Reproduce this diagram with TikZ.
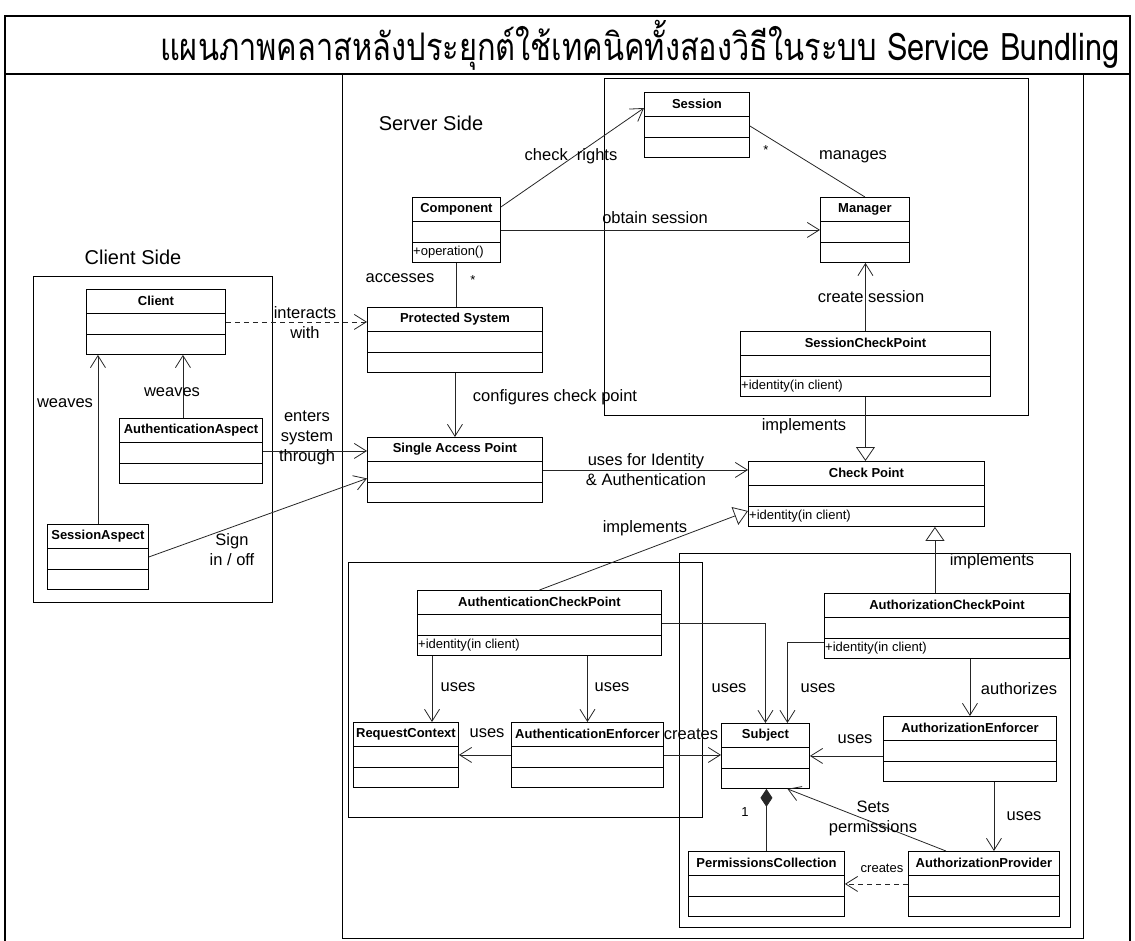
\documentclass[tikz,border=0pt]{standalone}
\usepackage{fontspec}
\setmainfont{Liberation Sans}
\newfontfamily\thaifont[Script=Thai]{Loma}
\usetikzlibrary{arrows.meta}

% UML class box: name, left, top, width, title, operation
\newcommand\umlclass[6]{%
  \node[clsbox, minimum width=#4pt, anchor=north west] (#1) at (#2,#3) {};
  \draw[clsline] ([yshift=-24pt]#1.north west) -- ([yshift=-24pt]#1.north east);
  \draw[clsline] ([yshift=-45pt]#1.north west) -- ([yshift=-45pt]#1.north east);
  \node[clstitle] at ([yshift=-12pt]#1.north) {#5};
  \node[clsop] at ([yshift=-55pt]#1.north west) {#6};
}

\begin{document}
\begin{tikzpicture}[x=1pt,y=-1pt,
  clsbox/.style={draw, line width=0.9pt, minimum height=65pt, inner sep=0pt, fill=white},
  clsline/.style={line width=0.9pt},
  clstitle/.style={font=\bfseries\fontsize{13}{14}\selectfont, inner sep=0pt},
  clsop/.style={font=\fontsize{13}{14}\selectfont, inner sep=1pt, anchor=west},
  lbl/.style={font=\fontsize{16.5}{20}\selectfont, inner sep=0pt, align=center},
  small/.style={font=\fontsize{13}{14}\selectfont, inner sep=0pt},
  heading/.style={font=\fontsize{20}{24}\selectfont, inner sep=0pt},
  pkg/.style={draw, line width=0.9pt},
  conn/.style={line width=0.8pt, black!85},
  assoc/.style={conn, -{Straight Barb[length=12pt,width=15pt,line width=0.8pt]}},
  realize/.style={conn, -{Triangle[open,length=14pt,width=19pt,line width=0.8pt]}},
  compose/.style={conn, {Diamond[length=18pt,width=12pt]}-},
  dashedline/.style={dash pattern=on 5pt off 4pt}
]
\useasboundingbox (0,0) rectangle (1135,941);

% outer frame and title row
\draw[line width=2pt] (5,945) -- (5,16) -- (1130,16) -- (1130,945);
\draw[line width=1.4pt] (5,74) -- (1130,74);
\node[inner sep=0pt] (title) at (640,45)
  {\scalebox{0.81}[1]{\thaifont\fontsize{38}{40}\selectfont แผนภาพคลาสหลังประยุกต์ใช้เทคนิคทั้งสองวิธีในระบบ Service Bundling}};

% frames and packages
\draw[pkg] (342,74) rectangle (1083,938);
\draw[pkg] (33,276) rectangle (272,602);
\draw[pkg] (604,78) rectangle (1028,415);
\draw[pkg] (348,562) rectangle (702,817);
\draw[pkg] (679,553) rectangle (1070,927);

\node[heading] (clientside) at (133,257) {Client Side};
\node[heading] (serverside) at (431,123) {Server Side};

% classes
\umlclass{Client}{86}{289}{139}{Client}{}
\umlclass{AuthenticationAspect}{119}{418}{143}{AuthenticationAspect}{}
\umlclass{SessionAspect}{47}{524}{101}{SessionAspect}{}
\umlclass{Session}{644}{92}{105}{Session}{}
\umlclass{Component}{412}{197}{88}{Component}{+operation()}
\umlclass{Manager}{820}{197}{89}{Manager}{}
\umlclass{SessionCheckPoint}{740}{331}{250}{SessionCheckPoint}{+identity(in client)}
\umlclass{ProtectedSystem}{367}{307}{175}{Protected System}{}
\umlclass{SingleAccessPoint}{367}{437}{175}{Single Access Point}{}
\umlclass{CheckPoint}{748}{461}{236}{Check Point}{+identity(in client)}
\umlclass{AuthenticationCheckPoint}{417}{590}{244}{AuthenticationCheckPoint}{+identity(in client)}
\umlclass{AuthorizationCheckPoint}{824}{593}{245}{AuthorizationCheckPoint}{+identity(in client)}
\umlclass{RequestContext}{353}{722}{105}{RequestContext}{}
\umlclass{AuthenticationEnforcer}{511}{722}{152}{AuthenticationEnforcer}{}
\umlclass{Subject}{721}{723}{88}{Subject}{}
\umlclass{AuthorizationEnforcer}{883}{716}{173}{AuthorizationEnforcer}{}
\umlclass{PermissionsCollection}{688}{851}{156}{PermissionsCollection}{}
\umlclass{AuthorizationProvider}{908}{851}{151}{AuthorizationProvider}{}

% client side connectors
\draw[assoc] (SessionAspect.north) -- (SessionAspect.north |- Client.south);
\coordinate (wv) at ([xshift=-8pt]AuthenticationAspect.north);
\draw[assoc] (wv) -- (wv |- Client.south);
\draw[assoc, dashedline] (Client.east) -- (Client.east -| ProtectedSystem.west);
\draw[assoc] (AuthenticationAspect.east) -- (AuthenticationAspect.east -| SingleAccessPoint.west);
\draw[assoc] (SessionAspect.east) -- ([yshift=-8.5pt]SingleAccessPoint.west);

\node[lbl] (lweaves1) at (65,403) {weaves};
\node[lbl] (lweaves2) at (172,392) {weaves};
\node[lbl] (linteracts) at (305,323) {interacts\\with};
\node[lbl] (lenters) at (307,438) {enters\\system\\through};
\node[lbl] (lsign) at (232,549.5) {Sign\\in / off};

% server side connectors
\draw[assoc] ([yshift=-10pt]Component.north east) -- ([yshift=-16pt]Session.north west);
\draw[assoc] (Component.east) -- (Component.east -| Manager.west);
\draw[conn] ([yshift=-34pt]Session.north east) -- (Manager.north);
\draw[assoc] (SessionCheckPoint.north) -- (SessionCheckPoint.north |- Manager.south);
\draw[conn] (Component.south) -- (Component.south |- ProtectedSystem.north);
\draw[assoc] (ProtectedSystem.south) -- (SingleAccessPoint.north);
\draw[assoc] (SingleAccessPoint.east) -- (SingleAccessPoint.east -| CheckPoint.west);
\draw[realize] (SessionCheckPoint.south) -- (SessionCheckPoint.south |- CheckPoint.north);
\draw[realize] (AuthenticationCheckPoint.north) -- ([yshift=-50pt]CheckPoint.north west);
\coordinate (az) at ([xshift=-12pt]AuthorizationCheckPoint.north);
\draw[realize] (az) -- (az |- CheckPoint.south);

\draw[assoc] ([xshift=15pt]AuthenticationCheckPoint.south west) -- ([xshift=15pt]AuthenticationCheckPoint.south west |- RequestContext.north);
\draw[assoc] (AuthenticationEnforcer.north |- AuthenticationCheckPoint.south) -- (AuthenticationEnforcer.north);
\draw[assoc] (AuthenticationEnforcer.west) -- (AuthenticationEnforcer.west -| RequestContext.east);
\draw[assoc] (AuthenticationEnforcer.east) -- (AuthenticationEnforcer.east -| Subject.west);
\draw[assoc] (AuthenticationCheckPoint.east) -| (Subject.north);
\draw[assoc] ([yshift=-49pt]AuthorizationCheckPoint.north west) -| ([xshift=22pt]Subject.north);
\draw[assoc] (AuthorizationEnforcer.north |- AuthorizationCheckPoint.south) -- (AuthorizationEnforcer.north);
\draw[assoc] ([yshift=-7pt]AuthorizationEnforcer.west) -- ([yshift=-7pt]AuthorizationEnforcer.west -| Subject.east);
\coordinate (ae) at ([xshift=24pt]AuthorizationEnforcer.south);
\draw[assoc] (ae) -- (ae |- AuthorizationProvider.north);
\draw[assoc, dashedline] (AuthorizationProvider.west) -- (AuthorizationProvider.west -| PermissionsCollection.east);
\draw[assoc] ([xshift=-38pt]AuthorizationProvider.north) -- ([xshift=22pt]Subject.south);
\draw[compose] (PermissionsCollection.north |- Subject.south) -- (PermissionsCollection.north);

% connector labels
\node[lbl] (lcheck) at (571,156) {check\ \ rights};
\node[lbl] (lobtain) at (655,218) {obtain session};
\node[lbl] (lmanages) at (853,157) {manages};
\node[small] (lstar1) at (766,150) {*};
\node[lbl] (lcreate) at (871,297) {create session};
\node[lbl] (laccesses) at (400,278) {accesses};
\node[small] (lstar2) at (473,280) {*};
\node[lbl] (lconfig) at (555,397) {configures check point};
\node[lbl] (lusesid) at (646,470) {uses for Identity\\\& Authentication};
\node[lbl] (limpl1) at (804,426) {implements};
\node[lbl] (limpl2) at (645,528) {implements};
\node[lbl] (limpl3) at (992,561) {implements};
\node[lbl] (luses1) at (458,687) {uses};
\node[lbl] (luses2) at (612,687) {uses};
\node[lbl] (luses3) at (487,733) {uses};
\node[lbl] (lcreates1) at (691,734) {creates};
\node[lbl] (luses4) at (729,688) {uses};
\node[lbl] (luses5) at (818,688) {uses};
\node[lbl] (lauth) at (1019,689) {authorizes};
\node[lbl] (luses6) at (855,739) {uses};
\node[lbl] (luses7) at (1024,816) {uses};
\node[lbl] (lsets) at (873,818.5) {Sets\\permissions};
\node[small] (lone) at (745,812) {1};
\node[small] (lcreates2) at (882,868) {creates};
\end{tikzpicture}
\end{document}
